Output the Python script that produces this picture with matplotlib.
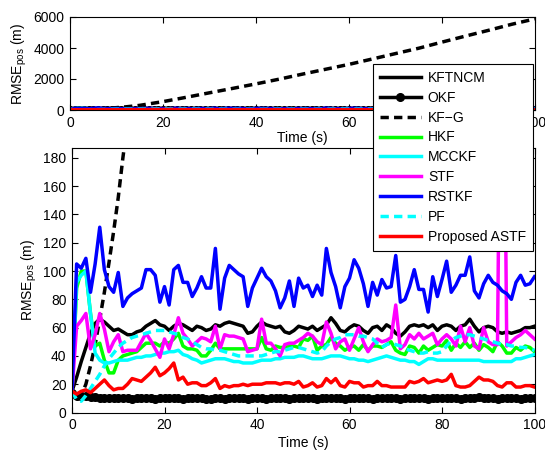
import numpy as np
import matplotlib
matplotlib.use('Agg')
import matplotlib.pyplot as plt

plt.rcParams['font.family'] = ['Liberation Sans', 'DejaVu Sans']
plt.rcParams['font.size'] = 10
plt.rcParams['mathtext.fontset'] = 'custom'
plt.rcParams['mathtext.rm'] = 'Liberation Sans'
plt.rcParams['mathtext.it'] = 'Liberation Sans:italic'

###
# Data (RMSE of position in m, one value per second)
###
t = np.arange(0, 101)

kftncm = [15, 25, 36, 46, 56, 63, 66, 64, 61, 58,
          59, 57, 55, 55, 57, 58, 61, 63, 65, 62,
          61, 58, 61, 63, 62, 60, 58, 61, 60, 58,
          59, 62, 61, 63, 64, 63, 62, 61, 56, 57,
          61, 64, 62, 61, 60, 61, 57, 56, 58, 61,
          60, 59, 61, 58, 60, 62, 67, 63, 58, 57,
          60, 62, 61, 58, 56, 60, 61, 58, 62, 60,
          56, 54, 57, 61, 62, 61, 62, 60, 62, 58,
          61, 62, 61, 58, 61, 62, 66, 61, 57, 60,
          61, 60, 57, 56, 57, 56, 57, 58, 60, 60,
          61]

okf = [14, 12, 11.5, 11.5, 11, 11, 10.5, 10, 10, 10,
       10, 10.5, 10, 9.5, 10, 10, 10.5, 10, 9.5, 10,
       10, 10.5, 10, 10, 9.5, 10, 10, 10.5, 10, 9.5,
       9.5, 10, 10, 9.5, 10, 10.5, 10, 10, 9.5, 10,
       10, 10, 9.5, 10, 10.5, 10, 10, 9.5, 10, 10,
       10, 10.5, 10, 9.5, 10, 10, 10, 10.5, 10, 9.5,
       10, 10, 10.5, 10, 10, 9.5, 10, 10, 10.5, 10,
       10, 9.5, 10, 10, 10.5, 10, 10, 9.5, 10, 10,
       10, 10.5, 10, 10, 9.5, 10, 10, 10.5, 11, 10,
       10, 10, 9.5, 10, 10.5, 10, 10, 9.5, 10, 10,
       10]

# KF-G diverges, sampled more coarsely after 15 s
kfg_t = [0, 1, 2, 3, 4, 5, 6, 7, 8, 9, 10, 11, 12, 13, 14, 15,
         20, 25, 30, 35, 40, 45, 50, 55, 60, 65, 70, 75, 80, 85, 90, 95, 100]
kfg = [15, 8, 12, 20, 33, 48, 66, 85, 106, 128, 152, 180, 205, 235, 265, 300,
       540, 820, 1110, 1395, 1685, 1990, 2315, 2630, 2945, 3290, 3640, 3985,
       4380, 4765, 5140, 5530, 5880]

hkf = [15, 88, 100, 100, 70, 47, 49, 37, 28, 28,
       37, 40, 41, 42, 43, 46, 49, 49, 49, 47,
       50, 49, 52, 56, 47, 45, 45, 44, 40, 40,
       44, 49, 45, 45, 45, 45, 45, 45, 45, 45,
       45, 53, 45, 44, 47, 46, 46, 47, 47, 46,
       52, 51, 54, 44, 47, 48, 53, 49, 47, 44,
       46, 47, 44, 48, 44, 47, 47, 46, 48, 50,
       44, 42, 41, 47, 46, 42, 47, 44, 46, 48,
       47, 51, 44, 49, 46, 50, 46, 49, 44, 48,
       46, 43, 50, 47, 42, 42, 46, 44, 47, 46,
       43]

mcckf = [15, 92, 97, 100, 70, 42, 37, 35, 35, 36,
         37, 37, 37, 38, 39, 39, 40, 40, 41, 42,
         42, 43, 43, 44, 41, 40, 38, 37, 35, 36,
         37, 38, 38, 38, 37, 36, 36, 35, 35, 35,
         36, 37, 37, 37, 38, 38, 39, 39, 39, 40,
         40, 39, 38, 38, 38, 39, 40, 40, 40, 39,
         38, 38, 37, 37, 36, 37, 38, 39, 40, 39,
         38, 37, 37, 36, 36, 34, 36, 38, 38, 37,
         37, 37, 37, 37, 37, 37, 37, 37, 37, 36,
         36, 36, 36, 36, 36, 36, 38, 38, 39, 40,
         41]

stf = [15, 61, 65, 70, 45, 55, 70, 59, 43, 50,
       55, 43, 44, 44, 44, 50, 56, 51, 45, 39,
       52, 45, 55, 67, 56, 52, 47, 50, 53, 52,
       50, 61, 45, 55, 54, 54, 53, 52, 43, 44,
       45, 66, 49, 49, 45, 40, 48, 49, 49, 51,
       53, 56, 54, 50, 48, 64, 56, 45, 50, 52,
       44, 52, 60, 50, 43, 48, 52, 50, 51, 53,
       76, 45, 48, 55, 52, 56, 52, 54, 56, 48,
       52, 55, 52, 47, 61, 50, 60, 47, 45, 60,
       50, 48, 48, 400, 47, 50, 53, 55, 58, 55,
       52]

rstkf = [15, 105, 102, 109, 85, 105, 131, 101, 89, 85,
         99, 75, 81, 84, 86, 88, 101, 101, 97, 78,
         89, 76, 101, 104, 92, 92, 82, 88, 96, 88,
         88, 116, 73, 95, 104, 101, 98, 96, 75, 88,
         95, 102, 96, 93, 86, 74, 81, 93, 75, 95,
         88, 90, 82, 90, 83, 116, 99, 89, 74, 89,
         95, 108, 102, 91, 75, 92, 83, 94, 88, 89,
         111, 78, 80, 89, 101, 87, 87, 71, 96, 82,
         94, 107, 85, 90, 97, 97, 110, 86, 81, 91,
         97, 92, 90, 86, 84, 80, 92, 97, 90, 91,
         96]

pf = [15, 9, 8, 12, 17, 22, 27, 33, 38, 42,
      46, 49, 51, 53, 54, 55, 56, 57, 58, 58,
      58, 57, 56, 55, 53, 52, 50, 48, 46, 45,
      45, 44, 44, 43, 42, 41, 40, 40, 40, 40,
      40, 40, 41, 42, 43, 43, 44, 45, 46, 46,
      45, 44, 43, 42, 43, 47, 50, 52, 53, 55,
      55, 55, 54, 54, 53, 52, 49, 46, 48, 49,
      48, 47, 45, 44, 43, 42, 42, 43, 42, 42,
      43, 47, 51, 53, 54, 55, 55, 54, 53, 52,
      51, 50, 49, 48, 48, 47, 47, 46, 46, 45,
      44]

astf = [15, 13, 15, 16, 14, 17, 20, 23, 19, 16,
        17, 17, 20, 24, 23, 22, 25, 28, 32, 26,
        28, 31, 35, 23, 25, 20, 21, 21, 19, 19,
        21, 24, 17, 19, 18, 19, 19, 20, 19, 20,
        20, 20, 21, 21, 21, 20, 21, 21, 20, 22,
        18, 19, 21, 18, 19, 24, 21, 24, 19, 18,
        22, 21, 21, 18, 19, 19, 22, 19, 19, 18,
        18, 18, 18, 22, 21, 22, 24, 21, 22, 23,
        22, 23, 27, 19, 18, 18, 19, 22, 25, 23,
        23, 22, 19, 18, 21, 21, 18, 18, 19, 19,
        18]

labels = ['KFTNCM', 'OKF', 'KF\u2212G', 'HKF', 'MCCKF', 'STF', 'RSTKF', 'PF',
          'Proposed ASTF']

###
# Plot
###
lw = 2.5
dash = (0, (2.4, 1.5))
ylab = r'RMSE$_{\mathrm{pos}}$ (m)'

fig = plt.figure(figsize=(5.45, 4.5), dpi=100)
ax1 = fig.add_axes([70/545, 1-110/450, 465/545, 93/450])
ax2 = fig.add_axes([72/545, 1-412.5/450, 462.5/545, 264.5/450])


def draw(ax):
    h = []
    h += ax.plot(t, kftncm, color='k', lw=lw)
    h += ax.plot(t, okf, color='k', lw=lw, marker='o', ms=5.5)
    h += ax.plot(kfg_t, kfg, color='k', lw=lw, linestyle=dash)
    h += ax.plot(t, hkf, color='#00ff00', lw=lw)
    h += ax.plot(t, mcckf, color='#00ffff', lw=lw)
    h += ax.plot(t, stf, color='#ff00ff', lw=lw)
    h += ax.plot(t, rstkf, color='#0000ff', lw=lw)
    h += ax.plot(t, pf, color='#00ffff', lw=lw, linestyle=dash)
    h += ax.plot(t, astf, color='#ff0000', lw=lw)
    ax.set_xlim(0, 100)
    ax.set_xticks(range(0, 101, 20))
    ax.tick_params(direction='in', top=True, right=True, length=4, width=0.8,
                   labelsize=10, pad=4)
    for s in ax.spines.values():
        s.set_linewidth(0.8)
    ax.set_xlabel('Time (s)', fontsize=10, labelpad=1)
    ax.set_ylabel(ylab, fontsize=10, labelpad=3)
    return h


draw(ax1)
ax1.set_ylim(0, 6000)
ax1.set_yticks([0, 2000, 4000, 6000])

handles = draw(ax2)
ax2.set_ylim(0, 187)
ax2.set_yticks(range(0, 181, 20))
ax2.xaxis.labelpad = 3

leg = fig.legend(handles, labels, loc='upper left',
                 bbox_to_anchor=(373/545, 1-64/450), borderaxespad=0,
                 fancybox=False, framealpha=1, edgecolor='k', fontsize=10,
                 handlelength=2.95, handletextpad=0.5, labelspacing=0.42,
                 borderpad=0.5)
leg.get_frame().set_linewidth(0.8)

fig.savefig('out.png', dpi=100)
